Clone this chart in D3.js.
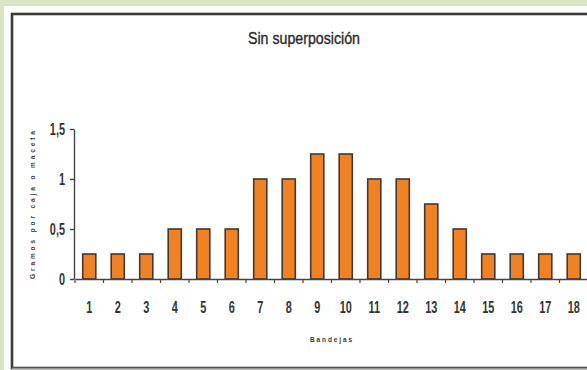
<!DOCTYPE html>
<html>
<head>
<meta charset="utf-8">
<script src="https://cdn.jsdelivr.net/npm/d3@7"></script>
<style>
  html, body { margin: 0; padding: 0; background: #dae4c5; }
  svg { display: block; }
</style>
</head>
<body>
<svg id="chart" width="587" height="370"></svg>
<script>
// Bandejas 1–18, gramos por caja
const categories = ["1","2","3","4","5","6","7","8","9","10","11","12","13","14","15","16","17","18"];
const values = [0.25,0.25,0.25,0.5,0.5,0.5,1,1,1.25,1.25,1,1,0.75,0.5,0.25,0.25,0.25,0.25];
const yTicks = [0, 0.5, 1, 1.5];
const yTickLabels = ["0", "0,5", "1", "1,5"];
const title = "Sin superposición";
const xTitle = "Bandejas";
const yTitle = "Gramos por caja o maceta";

const svg = d3.select("#chart");
const font = "'Liberation Sans', Arial, sans-serif";

// narrow the glyphs of a text selection to a fraction of their natural width
function condense(sel, k) {
  sel.each(function () {
    const w = this.getComputedTextLength();
    d3.select(this).attr("textLength", w * k).attr("lengthAdjust", "spacingAndGlyphs");
  });
}

// page frame: white card with a dark border
svg.append("rect").attr("x", 4).attr("y", 6).attr("width", 600).attr("height", 380).attr("fill", "#fbfbf9");
svg.append("rect").attr("x", 12).attr("y", 14).attr("width", 600).attr("height", 354)
  .attr("fill", "#ffffff").attr("stroke", "#3c3c3c").attr("stroke-width", 2.6);
svg.append("line").attr("x1", 12).attr("x2", 600).attr("y1", 368.5).attr("y2", 368.5)
  .attr("stroke", "#9a9a9a").attr("stroke-width", 1.5);

const x = d3.scaleBand().domain(categories).range([75, 588]).padding(0);
const y = d3.scaleLinear().domain([0, 1.5]).range([279, 129]);
const barW = x.bandwidth() * 0.46;

// bars
svg.append("g").selectAll("rect").data(values).join("rect")
  .attr("x", (d, i) => x(categories[i]) + (x.bandwidth() - barW) / 2)
  .attr("y", d => y(d))
  .attr("width", barW)
  .attr("height", d => y(0) - y(d))
  .attr("fill", "#f4811f")
  .attr("stroke", "#3a3a3a")
  .attr("stroke-width", 1.6);

// y axis
const yAxis = d3.axisLeft(y).tickValues(yTicks)
  .tickFormat((d, i) => yTickLabels[i]).tickSize(4).tickSizeOuter(0).tickPadding(5);
const gy = svg.append("g").attr("transform", "translate(74,0)").call(yAxis);
gy.selectAll("path, line").attr("stroke", "#444").attr("stroke-width", 1.4);
gy.selectAll("text").attr("font-family", font).attr("font-size", 16)
  .attr("fill", "#333").attr("font-weight", "bold").call(condense, 0.68);

// x axis: baseline, boundary ticks and labels
const xAxis = d3.axisBottom(x).tickSize(0).tickPadding(23).tickSizeOuter(0);
const gx = svg.append("g").attr("transform", "translate(0,279)").call(xAxis);
gx.select("path").attr("stroke", "#444").attr("stroke-width", 1.4);
gx.selectAll("text").attr("font-family", font).attr("font-size", 16)
  .attr("fill", "#333").attr("font-weight", "bold").call(condense, 0.68);
svg.append("g").selectAll("line").data(categories).join("line")
  .attr("x1", d => x(d)).attr("x2", d => x(d))
  .attr("y1", 279).attr("y2", 283)
  .attr("stroke", "#444").attr("stroke-width", 1.2);

// titles
svg.append("text").attr("x", 304).attr("y", 43.5).attr("text-anchor", "middle")
  .attr("font-family", font).attr("font-size", 16).attr("fill", "#2a2a2a")
  .attr("stroke", "#2a2a2a").attr("stroke-width", 0.35)
  .attr("textLength", 112).attr("lengthAdjust", "spacingAndGlyphs")
  .text(title);

svg.append("text").attr("x", 331).attr("y", 342).attr("text-anchor", "middle")
  .attr("font-family", font).attr("font-size", 6.5)
  .attr("font-weight", "bold").attr("fill", "#3a3a3a")
  .attr("textLength", 42).attr("lengthAdjust", "spacing")
  .text(xTitle);

svg.append("text").attr("transform", "translate(35,205) rotate(-90)").attr("text-anchor", "middle")
  .attr("font-family", font).attr("font-size", 6.5)
  .attr("font-weight", "bold").attr("fill", "#3a3a3a")
  .attr("textLength", 148).attr("lengthAdjust", "spacing")
  .text(yTitle);
</script>
</body>
</html>
